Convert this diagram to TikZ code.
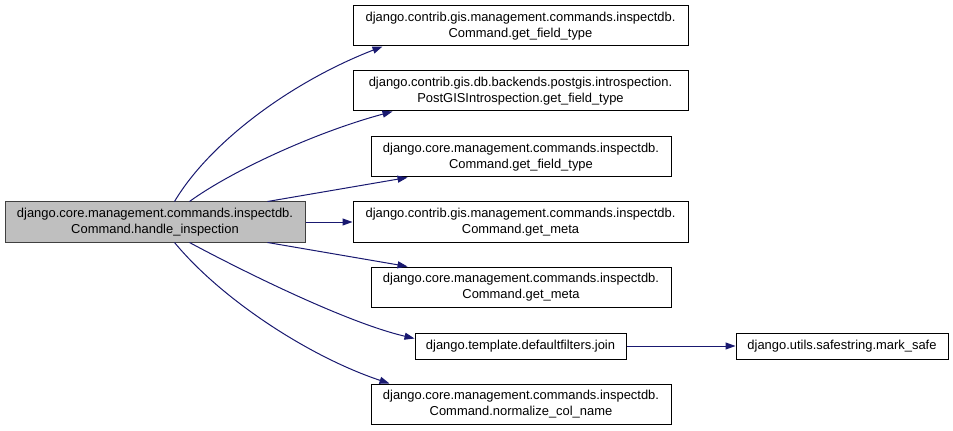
\documentclass[tikz,border=0pt]{standalone}
\usepackage{fontspec}
\setmainfont{Liberation Sans}
\usetikzlibrary{arrows.meta}
\definecolor{edgecol}{HTML}{191970}
\definecolor{maingray}{HTML}{BFBFBF}
\begin{document}
\begin{tikzpicture}[x=0.75pt,y=-0.75pt,
  box/.style={draw=black, line width=0.75pt, fill=white, inner sep=0pt, align=center,
    font=\fontsize{9.7}{12}\selectfont, minimum height=30pt},
  wide/.style={box, minimum width=251.25pt},
  mid/.style={box, minimum width=225pt},
  single/.style={box, minimum height=19.5pt},
  arr/.style={draw=edgecol, line width=0.75pt, -{Triangle[length=7.5pt,width=5.25pt]}}]
\useasboundingbox (0,0) rectangle (953,431);
\node[mid, fill=maingray, draw={rgb,255:red,64;green,64;blue,64}] (main) at (155,222)
  {django.core.management.commands.inspectdb.\\Command.handle\_inspection};
\node[wide] (n1) at (520.5,26) {django.contrib.gis.management.commands.inspectdb.\\Command.get\_field\_type};
\node[wide] (n2) at (520.5,91) {django.contrib.gis.db.backends.postgis.introspection.\\PostGISIntrospection.get\_field\_type};
\node[mid] (n3) at (521,157) {django.core.management.commands.inspectdb.\\Command.get\_field\_type};
\node[wide] (n4) at (520.5,222) {django.contrib.gis.management.commands.inspectdb.\\Command.get\_meta};
\node[mid] (n5) at (521,287) {django.core.management.commands.inspectdb.\\Command.get\_meta};
\node[single, minimum width=158.25pt] (join) at (520.5,346) {django.template.defaultfilters.join};
\node[single, minimum width=159pt] (mark) at (842,346) {django.utils.safestring.mark\_safe};
\node[mid] (norm) at (521,404) {django.core.management.commands.inspectdb.\\Command.normalize\_col\_name};

\draw[arr] ([xshift=127.5pt]main.north west) .. controls (210,142) and (291,82) .. ([xshift=22.5pt]n1.south west);
\draw[arr] ([xshift=138.75pt]main.north west) .. controls (230,172) and (313,133) .. ([xshift=30pt]n2.south west);
\draw[arr] ([xshift=197.25pt]main.north west) -- ([xshift=27.75pt]n3.south west);
\draw[arr] (main.east) -- (n4.west);
\draw[arr] ([xshift=197.25pt]main.south west) -- ([xshift=27.75pt]n5.north west);
\draw[arr] ([xshift=138.75pt]main.south west) .. controls (235,267) and (344,322) .. ([yshift=-4.5pt]join.north west);
\draw[arr] ([xshift=127.5pt]main.south west) .. controls (222,300) and (310,357) .. ([xshift=14.25pt]norm.north west);
\draw[arr] (join.east) -- (mark.west);
\end{tikzpicture}
\end{document}
